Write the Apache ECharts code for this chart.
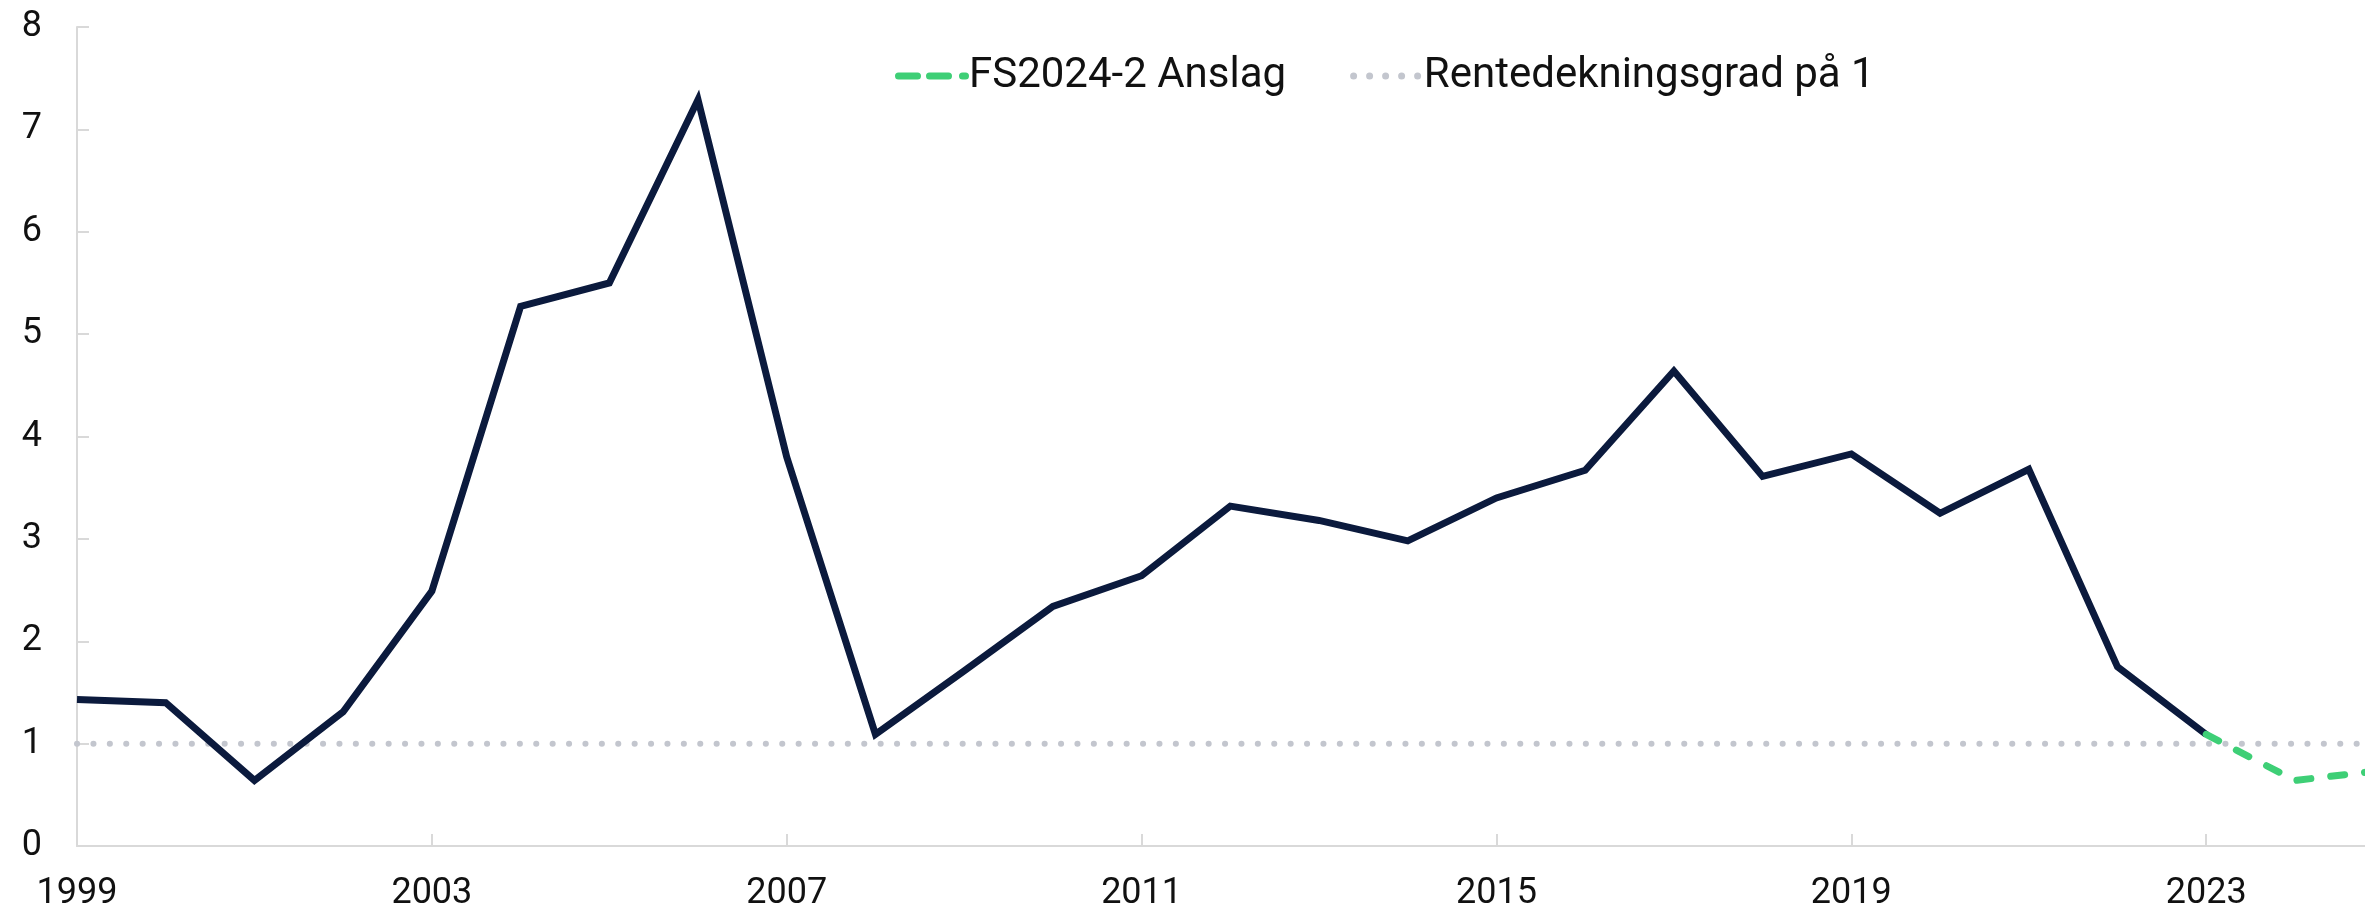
<!DOCTYPE html>
<html>
<head>
<meta charset="utf-8">
<style>
  html, body { margin: 0; padding: 0; background: #ffffff; }
  #chart { width: 2365px; height: 914px; }
</style>
<script src="https://cdn.jsdelivr.net/npm/echarts@6/dist/echarts.min.js"></script>
</head>
<body>
<div id="chart"></div>
<script>
// Data
const years = [1999,2000,2001,2002,2003,2004,2005,2006,2007,2008,2009,2010,2011,2012,2013,2014,2015,2016,2017,2018,2019,2020,2021,2022,2023];
const historical = [1.43,1.40,0.64,1.31,2.49,5.27,5.50,7.29,3.80,1.09,1.71,2.34,2.64,3.32,3.18,2.98,3.40,3.67,4.64,3.61,3.83,3.25,3.68,1.75,1.09];
const forecastYears = [2023,2024,2025];
const forecast = [1.09,0.64,0.74];
const thresholdYears = [1999,2025];
const threshold = [1,1];
const xTickLabels = [1999,2003,2007,2011,2015,2019,2023];
const yTickLabels = [0,1,2,3,4,5,6,7,8];
const seriesNames = ['FS2024-2 Anslag','Rentedekningsgrad på 1'];

const zip = (xs, ys) => xs.map((x, i) => [x, ys[i]]);

// legend icon shapes (in a 74 x 7 box)
function rr(x0, x1, h) { const r = h / 2; return `M${x0 + r},0 L${x1 - r},0 A${r},${r} 0 0 1 ${x1 - r},${h} L${x0 + r},${h} A${r},${r} 0 0 1 ${x0 + r},0 Z`; }
function dot(cx, r) { return `M${cx - r},${r} A${r},${r} 0 1 1 ${cx + r},${r} A${r},${r} 0 1 1 ${cx - r},${r} Z`; }
const dashIcon = 'path://' + rr(0, 26, 7) + ' ' + rr(31, 57, 7) + ' ' + rr(64, 74, 7);
const dotIcon = 'path://' + [4, 20, 36, 52, 68].map(c => dot(c, 3.5)).join(' ') + ' M73.9,3.5 L74,3.5 Z';

const FONT = 'Roboto';
const chart = echarts.init(document.getElementById('chart'), null, { renderer: 'canvas' });
chart.setOption({
  animation: false,
  backgroundColor: '#ffffff',
  grid: { left: 77, right: 0, top: 27, bottom: 68, containLabel: false },
  legend: {
    data: [
      { name: seriesNames[0], icon: dashIcon },
      { name: seriesNames[1], icon: dotIcon }
    ],
    top: 50,
    left: 890,
    itemWidth: 74,
    itemHeight: 7,
    itemGap: 64,
    textStyle: { fontFamily: FONT, fontSize: 42, color: '#111111', padding: [0, 0, 0, -5] }
  },
  xAxis: {
    type: 'value',
    min: 1999,
    max: 2024.79,
    splitLine: { show: false },
    axisLine: { show: true, lineStyle: { color: '#d9d9d9', width: 2 } },
    axisTick: { show: true, inside: true, length: 12, lineStyle: { color: '#d9d9d9', width: 2 }, customValues: xTickLabels },
    axisLabel: { fontFamily: FONT, fontSize: 36, color: '#111111', margin: 30, customValues: xTickLabels, formatter: v => String(v) }
  },
  yAxis: {
    type: 'value',
    min: 0,
    max: 8,
    interval: 1,
    splitLine: { show: false },
    axisLine: { show: true, lineStyle: { color: '#d9d9d9', width: 2 } },
    axisTick: { show: true, inside: true, length: 12, lineStyle: { color: '#d9d9d9', width: 2 } },
    axisLabel: { fontFamily: FONT, fontSize: 36, color: '#111111', margin: 35, formatter: v => yTickLabels.includes(v) ? String(v) : '' }
  },
  series: [
    {
      name: seriesNames[1],
      type: 'line',
      data: zip(thresholdYears, threshold),
      symbol: 'none',
      silent: true,
      lineStyle: { color: '#c3c6ce', width: 6, type: [0.1, 16.3], cap: 'round' },
      itemStyle: { color: '#c3c6ce' },
      z: 1
    },
    {
      name: 'Rentedekningsgrad',
      type: 'line',
      data: zip(years, historical),
      symbol: 'none',
      lineStyle: { color: '#0b1a3d', width: 7, join: 'miter' },
      itemStyle: { color: '#0b1a3d' },
      z: 3
    },
    {
      name: seriesNames[0],
      type: 'line',
      data: zip(forecastYears, forecast),
      symbol: 'none',
      lineStyle: { color: '#3ecf76', width: 7, type: [14, 20], cap: 'round' },
      itemStyle: { color: '#3ecf76' },
      z: 4
    }
  ]
});
</script>
</body>
</html>
